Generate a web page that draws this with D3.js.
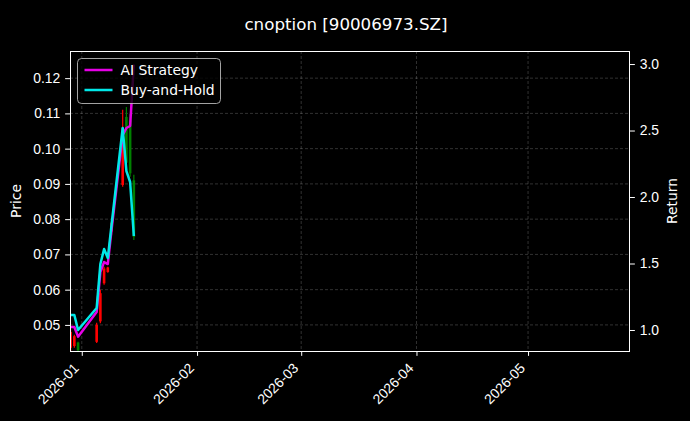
<!DOCTYPE html>
<html>
<head>
<meta charset="utf-8">
<script src="https://cdn.jsdelivr.net/npm/d3@7"></script>
<style>
  html, body { margin: 0; padding: 0; background: #000; }
  svg { display: block; font-family: "DejaVu Sans", sans-serif; }
</style>
</head>
<body>
<svg id="chart" width="690" height="421"></svg>
<script>
// ---- data ----
const title = "cnoption [90006973.SZ]";
const dates = ["2025-12-29","2025-12-30","2025-12-31","2026-01-05","2026-01-06","2026-01-07","2026-01-08","2026-01-09","2026-01-12","2026-01-13","2026-01-14","2026-01-15"];
const open  = [0.0435, 0.0440, 0.0450, 0.0452, 0.0510, 0.0618, 0.0650, 0.0765, 0.0897, 0.1090, 0.1080, 0.0910];
const high  = [0.0486, 0.0472, 0.0452, 0.0506, 0.0600, 0.0665, 0.0665, 0.0798, 0.1110, 0.1118, 0.1098, 0.0926];
const low   = [0.0420, 0.0435, 0.0420, 0.0449, 0.0505, 0.0614, 0.0648, 0.0755, 0.0892, 0.0946, 0.0920, 0.0741];
const close = [0.0480, 0.0468, 0.0428, 0.0500, 0.0590, 0.0660, 0.0663, 0.0790, 0.1059, 0.0960, 0.0930, 0.0750];
const aiStrategy  = [1.023, 1.023, 0.950, 1.135, 1.436, 1.511, 1.496, 1.752, 2.466, 2.519, 2.534, 2.995];
const buyAndHold  = [1.113, 1.113, 1.000, 1.165, 1.496, 1.609, 1.541, 1.789, 2.519, 2.195, 2.113, 1.707];
const priceTicks  = [0.05, 0.06, 0.07, 0.08, 0.09, 0.10, 0.11, 0.12];
const returnTicks = [1.0, 1.5, 2.0, 2.5, 3.0];
const monthTicks  = ["2026-01-01","2026-02-01","2026-03-01","2026-04-01","2026-05-01"];
const seriesNames = ["AI Strategy", "Buy-and-Hold"];

// ---- layout ----
const W = 690, H = 421;
const m = {left: 70, right: 630, top: 51, bottom: 351};
const parse = s => { const [y, mo, d] = s.split("-").map(Number); return new Date(y, mo - 1, d); };
const xDates = dates.map(parse);

const svg = d3.select("#chart");
svg.append("rect").attr("width", W).attr("height", H).attr("fill", "#000");

const x = d3.scaleTime()
  .domain([new Date(2025, 11, 28, 20), new Date(2026, 4, 28, 10)])
  .range([m.left, m.right]);
const yP = d3.scaleLinear().domain([0.0426, 0.1277]).range([m.bottom, m.top]);
const yR = d3.scaleLinear().domain([0.842, 3.098]).range([m.bottom, m.top]);

const gridColor = "rgba(255,255,255,0.28)";
// grid
const grid = svg.append("g");
grid.selectAll(".gx").data(monthTicks.map(parse)).join("line")
  .attr("x1", d => x(d)).attr("x2", d => x(d))
  .attr("y1", m.top).attr("y2", m.bottom)
  .attr("stroke", gridColor).attr("stroke-width", 0.7).attr("stroke-dasharray", "3,2");
grid.selectAll(".gy").data(priceTicks).join("line")
  .attr("x1", m.left).attr("x2", m.right)
  .attr("y1", d => yP(d)).attr("y2", d => yP(d))
  .attr("stroke", gridColor).attr("stroke-width", 0.7).attr("stroke-dasharray", "3,2");

// clip
svg.append("clipPath").attr("id", "clip").append("rect")
  .attr("x", m.left).attr("y", m.top).attr("width", m.right - m.left).attr("height", m.bottom - m.top);
const plot = svg.append("g").attr("clip-path", "url(#clip)");

// candles
const candles = dates.map((d, i) => ({d: xDates[i], o: open[i], h: high[i], l: low[i], c: close[i]}));
const cColor = c => c.c >= c.o ? "#ff0000" : "#008000";
plot.selectAll(".wick").data(candles).join("line")
  .attr("x1", c => x(c.d)).attr("x2", c => x(c.d))
  .attr("y1", c => yP(c.h)).attr("y2", c => yP(c.l))
  .attr("stroke", cColor).attr("stroke-width", 1.2);
plot.selectAll(".body").data(candles).join("rect")
  .attr("x", c => x(c.d) - 1.3).attr("width", 2.6)
  .attr("y", c => yP(Math.max(c.o, c.c)))
  .attr("height", c => Math.max(1, Math.abs(yP(c.o) - yP(c.c))))
  .attr("fill", cColor);

// lines
const colors = ["#e600e6", "#00e8e8"];
const seriesVals = [aiStrategy, buyAndHold];
const line = d3.line().x(d => x(d[0])).y(d => yR(d[1]));
seriesVals.forEach((vals, k) => {
  plot.append("path")
    .datum(vals.map((v, i) => [xDates[i], v]))
    .attr("d", line).attr("fill", "none")
    .attr("stroke", colors[k]).attr("stroke-width", 2.5)
    .attr("stroke-linejoin", "round");
});

// axes
const fontSize = "13.9px";
const tk = 4.86;
const xAxis = svg.append("g").attr("transform", `translate(0,${m.bottom})`)
  .call(d3.axisBottom(x).tickValues(monthTicks.map(parse)).tickFormat(d3.timeFormat("%Y-%m")).tickSizeOuter(0).tickSize(tk));
xAxis.selectAll("text")
  .attr("fill", "#fff").style("font-size", fontSize)
  .attr("text-anchor", "end")
  .attr("x", 0).attr("y", 0).attr("dy", 0).attr("dx", 0)
  .attr("transform", "translate(-2.5,18) rotate(-45)");
const yAxisL = svg.append("g").attr("transform", `translate(${m.left},0)`)
  .call(d3.axisLeft(yP).tickValues(priceTicks).tickFormat(d3.format(".2f")).tickSizeOuter(0).tickSize(tk).tickPadding(tk));
yAxisL.selectAll("text").attr("fill", "#fff").style("font-size", fontSize);
const yAxisR = svg.append("g").attr("transform", `translate(${m.right},0)`)
  .call(d3.axisRight(yR).tickValues(returnTicks).tickFormat(d3.format(".1f")).tickSizeOuter(0).tickSize(tk).tickPadding(tk));
yAxisR.selectAll("text").attr("fill", "#fff").style("font-size", fontSize);
[xAxis, yAxisL, yAxisR].forEach(a => {
  a.select(".domain").remove();
  a.selectAll("line").attr("stroke", "#fff");
});

// frame (crisp 1px)
svg.append("rect").attr("x", m.left + 0.5).attr("y", m.top + 0.5)
  .attr("width", m.right - m.left - 1).attr("height", m.bottom - m.top)
  .attr("fill", "none").attr("stroke", "#fff").attr("stroke-width", 1);

// labels
svg.append("text").attr("x", 346).attr("y", 30).attr("text-anchor", "middle")
  .attr("fill", "#fff").style("font-size", "16.7px").text(title);
svg.append("text").attr("transform", `translate(21,${(m.top + m.bottom) / 2}) rotate(-90)`)
  .attr("text-anchor", "middle").attr("fill", "#fff").style("font-size", fontSize).text("Price");
svg.append("text").attr("transform", `translate(677,${(m.top + m.bottom) / 2}) rotate(-90)`)
  .attr("text-anchor", "middle").attr("fill", "#fff").style("font-size", fontSize).text("Return");

// legend
const lg = svg.append("g").attr("transform", "translate(77.5,58.5)");
lg.append("rect").attr("width", 143).attr("height", 45).attr("rx", 4)
  .attr("fill", "rgba(0,0,0,0.8)").attr("stroke", "rgba(204,204,204,0.8)").attr("stroke-width", 1);
seriesNames.forEach((name, k) => {
  const yy = 11.5 + k * 20;
  lg.append("line").attr("x1", 7).attr("x2", 35).attr("y1", yy).attr("y2", yy)
    .attr("stroke", colors[k]).attr("stroke-width", 2.5);
  lg.append("text").attr("x", 43).attr("y", yy).attr("dy", "0.35em")
    .attr("fill", "#fff").style("font-size", fontSize).text(name);
});
</script>
</body>
</html>
